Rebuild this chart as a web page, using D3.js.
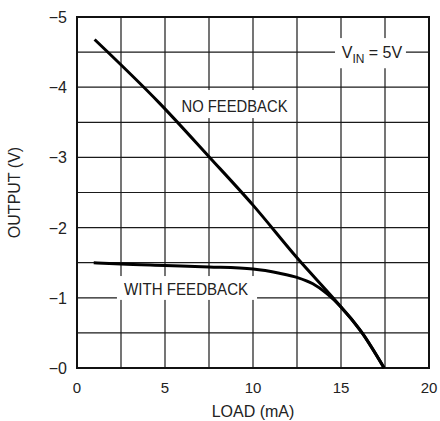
<!DOCTYPE html>
<html>
<head>
<meta charset="utf-8">
<script src="https://cdn.jsdelivr.net/npm/d3@7"></script>
<style>
  body { margin: 0; background: #fff; }
  svg text { font-family: "Liberation Sans", Arial, sans-serif; fill: #222; }
</style>
</head>
<body>
<div id="chart"></div>
<script>

// axis values
var xTicks = [0, 5, 10, 15, 20],
	xGrid = [0, 2.5, 5, 7.5, 10, 12.5, 15, 17.5, 20],
	yTicks = [0, -1, -2, -3, -4, -5],
	yTickLabels = ["\u22120", "\u22121", "\u22122", "\u22123", "\u22124", "\u22125"],
	yGrid = [0, -0.5, -1, -1.5, -2, -2.5, -3, -3.5, -4, -4.5, -5];

// curves: load (mA), output (V)
var noFbLoad = [1, 4.7, 7.5, 10, 12.5, 15, 16.2, 17.45],
	noFbOut = [-4.68, -3.77, -3.01, -2.32, -1.57, -0.87, -0.5, 0];

var fbLoad = [0.95, 2.5, 5, 7.5, 10, 11.5, 12.5, 13.4, 14.2, 15, 16.2, 17.45],
	fbOut = [-1.5, -1.48, -1.46, -1.44, -1.41, -1.35, -1.29, -1.2, -1.06, -0.87, -0.5, 0];

// size and margins
var margin = {top: 17, right: 11, bottom: 53, left: 77},
	width = 440,
	height = 421,
	plotw = width - margin.left - margin.right,
	ploth = height - margin.top - margin.bottom;

var svg = d3.select("#chart")
	.append("svg")
	.attr("width", width)
	.attr("height", height);

var g = svg.append("g")
	.attr("transform", "translate(" + margin.left + "," + margin.top + ")");

var x = d3.scaleLinear().domain([0, 20]).range([0, plotw]);
var y = d3.scaleLinear().domain([0, -5]).range([ploth, 0]);

// grid lines
g.append("g")
	.selectAll("line")
	.data(xGrid)
	.enter()
	.append("line")
	.attr("x1", function(d){ return x(d); })
	.attr("x2", function(d){ return x(d); })
	.attr("y1", 0)
	.attr("y2", ploth)
	.attr("stroke", "#1a1a1a")
	.attr("stroke-width", 1.2);

g.append("g")
	.selectAll("line")
	.data(yGrid)
	.enter()
	.append("line")
	.attr("x1", 0)
	.attr("x2", plotw)
	.attr("y1", function(d){ return y(d); })
	.attr("y2", function(d){ return y(d); })
	.attr("stroke", "#1a1a1a")
	.attr("stroke-width", 1.2);

// frame
g.append("rect")
	.attr("width", plotw)
	.attr("height", ploth)
	.attr("fill", "none")
	.attr("stroke", "#111")
	.attr("stroke-width", 2);

// tick labels
g.append("g")
	.selectAll("text")
	.data(xTicks)
	.enter()
	.append("text")
	.attr("x", function(d){ return x(d); })
	.attr("y", ploth + 25)
	.attr("text-anchor", "middle")
	.style("font-size", "15px")
	.text(function(d){ return d; });

g.append("g")
	.selectAll("text")
	.data(yTicks)
	.enter()
	.append("text")
	.attr("x", -10)
	.attr("y", function(d){ return y(d) + 6; })
	.attr("text-anchor", "end")
	.style("font-size", "16px")
	.text(function(d, i){ return yTickLabels[i]; });

// axis titles
svg.append("text")
	.attr("x", margin.left + plotw / 2)
	.attr("y", 417)
	.attr("text-anchor", "middle")
	.style("font-size", "16px")
	.text("LOAD (mA)");

svg.append("text")
	.attr("transform", "translate(19.5," + (margin.top + ploth / 2) + ") rotate(-90)")
	.attr("text-anchor", "middle")
	.style("font-size", "16px")
	.text("OUTPUT (V)");

// white boxes that break the grid behind the labels
function whiteBox(x0, x1, y0, y1){

	g.append("rect")
		.attr("x", x(x0))
		.attr("y", y(y0))
		.attr("width", x(x1) - x(x0))
		.attr("height", y(y1) - y(y0))
		.attr("fill", "#fff");
}

whiteBox(5.68, 12.2, -3.96, -3.56);
whiteBox(2.27, 10.23, -1.31, -0.97);
whiteBox(14.66, 18.69, -4.7, -4.27);

g.append("text")
	.attr("x", x(8.95))
	.attr("y", y(-3.64))
	.attr("text-anchor", "middle")
	.attr("textLength", 106)
	.attr("lengthAdjust", "spacingAndGlyphs")
	.style("font-size", "16px")
	.text("NO FEEDBACK");

g.append("text")
	.attr("x", x(6.2))
	.attr("y", y(-1.04))
	.attr("text-anchor", "middle")
	.attr("textLength", 124)
	.attr("lengthAdjust", "spacingAndGlyphs")
	.style("font-size", "16px")
	.text("WITH FEEDBACK");

var vin = g.append("text")
	.attr("x", x(15.04))
	.attr("y", y(-4.41))
	.style("font-size", "16px");
vin.append("tspan").text("V");
vin.append("tspan").attr("dy", 5).style("font-size", "12px").text("IN");
vin.append("tspan").attr("dy", -5).text(" = 5V");

// curves
var line = d3.line()
	.x(function(d){ return x(d[0]); })
	.y(function(d){ return y(d[1]); })
	.curve(d3.curveMonotoneX);

g.append("path")
	.datum(d3.zip(noFbLoad, noFbOut))
	.attr("d", line)
	.attr("fill", "none")
	.attr("stroke", "#000")
	.attr("stroke-width", 3);

g.append("path")
	.datum(d3.zip(fbLoad, fbOut))
	.attr("d", line)
	.attr("fill", "none")
	.attr("stroke", "#000")
	.attr("stroke-width", 3);

</script>
</body>
</html>
